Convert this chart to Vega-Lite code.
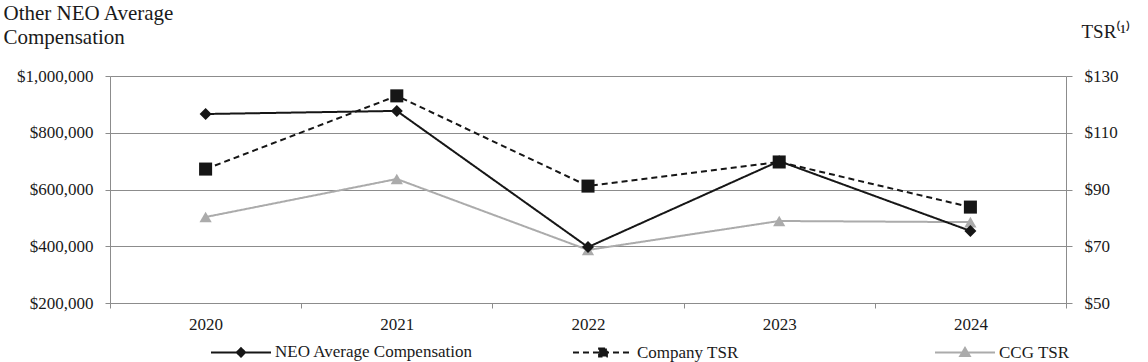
{
  "$schema": "https://vega.github.io/schema/vega-lite/v6.json",
  "width": 956,
  "height": 227,
  "autosize": {"type": "none"},
  "padding": {"left": 110, "top": 76, "right": 82, "bottom": 59},
  "background": "white",
  "config": {
    "font": "Liberation Serif, Times New Roman, serif",
    "view": {"stroke": null},
    "axis": {
      "labelFont": "Liberation Serif, Times New Roman, serif",
      "titleFont": "Liberation Serif, Times New Roman, serif",
      "labelFontSize": 17,
      "labelColor": "#1a1a1a",
      "titleColor": "#1a1a1a",
      "titleFontWeight": "normal",
      "domainColor": "#8c8c8c",
      "tickColor": "#8c8c8c",
      "gridColor": "#8c8c8c",
      "domainWidth": 1,
      "tickWidth": 1,
      "gridWidth": 1
    },
    "legend": {"labelFont": "Liberation Serif, Times New Roman, serif", "labelFontSize": 17, "labelColor": "#1a1a1a", "labelLimit": 400}
  },
  "datasets": {
    "neo": [
      {"year": "2020", "series": "NEO Average Compensation", "value": 866000},
      {"year": "2021", "series": "NEO Average Compensation", "value": 877000},
      {"year": "2022", "series": "NEO Average Compensation", "value": 397000},
      {"year": "2023", "series": "NEO Average Compensation", "value": 700000},
      {"year": "2024", "series": "NEO Average Compensation", "value": 454000}
    ],
    "tsr": [
      {"year": "2020", "series": "Company TSR", "value": 97.2},
      {"year": "2021", "series": "Company TSR", "value": 123.0},
      {"year": "2022", "series": "Company TSR", "value": 91.2},
      {"year": "2023", "series": "Company TSR", "value": 99.7},
      {"year": "2024", "series": "Company TSR", "value": 83.8},
      {"year": "2020", "series": "CCG TSR", "value": 80.3},
      {"year": "2021", "series": "CCG TSR", "value": 93.7},
      {"year": "2022", "series": "CCG TSR", "value": 68.7},
      {"year": "2023", "series": "CCG TSR", "value": 78.9},
      {"year": "2024", "series": "CCG TSR", "value": 78.5}
    ]
  },
  "encoding": {
    "x": {
      "field": "year",
      "type": "ordinal",
      "scale": {"type": "band", "paddingInner": 0, "paddingOuter": 0},
      "axis": {
        "title": null,
        "labelAngle": 0,
        "tickBand": "extent",
        "tickSize": 5,
        "labelPadding": 8,
        "grid": false,
        "labelFont": "Liberation Serif, Times New Roman, serif"
      }
    },
    "color": {
      "field": "series",
      "type": "nominal",
      "scale": {
        "domain": ["NEO Average Compensation", "Company TSR", "CCG TSR"],
        "range": ["#161616", "#161616", "#ababab"]
      },
      "legend": {
        "title": null,
        "orient": "none",
        "direction": "horizontal",
        "legendX": 100,
        "legendY": 245,
        "gridAlign": "all",
        "columnPadding": 96,
        "symbolSize": 3600,
        "symbolStrokeWidth": 2,
        "labelOffset": 3,
        "labelLimit": 400,
        "labelFont": "Liberation Serif, Times New Roman, serif",
        "encode": {
          "symbols": {
            "enter": {
              "shape": {"signal": "datum.value === 'NEO Average Compensation' ? 'M-1,0H1M0,-0.14L0.14,0L0,0.14L-0.14,0Z' : datum.value === 'Company TSR' ? 'M-1,0H1M-0.13,-0.13H0.13V0.13H-0.13Z' : 'M-1,0H1M0,-0.15L0.16,0.12H-0.16Z'"},
              "size": {"value": 3600}
            },
            "update": {
              "shape": {"signal": "datum.value === 'NEO Average Compensation' ? 'M-1,0H1M0,-0.14L0.14,0L0,0.14L-0.14,0Z' : datum.value === 'Company TSR' ? 'M-1,0H1M-0.13,-0.13H0.13V0.13H-0.13Z' : 'M-1,0H1M0,-0.15L0.16,0.12H-0.16Z'"},
              "size": {"value": 3600},
              "strokeDash": {"signal": "datum.value === 'Company TSR' ? [3, 2] : [1, 0]"},
              "fill": {"signal": "datum.value === 'CCG TSR' ? '#ababab' : '#161616'"},
              "stroke": {"signal": "datum.value === 'CCG TSR' ? '#ababab' : '#161616'"},
              "fillOpacity": {"value": 1},
              "opacity": {"value": 1}
            }
          }
        }
      }
    }
  },
  "layer": [
    {
      "data": {"name": "tsr"},
      "encoding": {
        "y": {
          "field": "value",
          "type": "quantitative",
          "scale": {"domain": [50, 130], "nice": false, "zero": false},
          "axis": {
            "orient": "right",
            "values": [50, 70, 90, 110, 130],
            "format": "$,.0f",
            "grid": false,
            "tickSize": 6,
            "labelPadding": 12,
            "labelFont": "Liberation Serif, Times New Roman, serif",
            "title": "TSR⁽¹⁾",
            "titleFont": "Liberation Serif, Times New Roman, serif",
            "titleAngle": 0,
            "titleAlign": "left",
            "titleBaseline": "alphabetic",
            "titleX": 15,
            "titleY": -39,
            "titleFontSize": 19
          }
        }
      },
      "layer": [
        {
          "mark": {"type": "line", "strokeWidth": 2},
          "encoding": {
            "strokeDash": {
              "field": "series",
              "type": "nominal",
              "scale": {"domain": ["NEO Average Compensation", "Company TSR", "CCG TSR"], "range": [[1, 0], [6, 4], [1, 0]]},
              "legend": null
            }
          }
        },
        {
          "transform": [{"filter": "datum.series === 'Company TSR'"}],
          "mark": {"type": "point", "filled": true, "opacity": 1, "shape": "square", "size": 170}
        },
        {
          "transform": [{"filter": "datum.series === 'CCG TSR'"}],
          "mark": {"type": "point", "filled": true, "opacity": 1, "shape": "triangle-up", "size": 150}
        }
      ]
    },
    {
      "data": {"name": "neo"},
      "encoding": {
        "y": {
          "field": "value",
          "type": "quantitative",
          "scale": {"domain": [200000, 1000000], "nice": false, "zero": false},
          "axis": {
            "orient": "left",
            "values": [200000, 400000, 600000, 800000, 1000000],
            "format": "$,.0f",
            "grid": true,
            "tickSize": 5,
            "labelPadding": 12,
            "labelFont": "Liberation Serif, Times New Roman, serif",
            "title": ["Other NEO Average", "Compensation"],
            "titleFont": "Liberation Serif, Times New Roman, serif",
            "titleAngle": 0,
            "titleAlign": "left",
            "titleBaseline": "alphabetic",
            "titleX": -107,
            "titleY": -57,
            "titleFontSize": 21,
            "titleLineHeight": 24
          }
        }
      },
      "layer": [
        {
          "mark": {"type": "line", "strokeWidth": 2},
          "encoding": {
            "strokeDash": {"field": "series", "type": "nominal", "legend": null}
          }
        },
        {
          "mark": {"type": "point", "filled": true, "opacity": 1, "shape": "diamond", "size": 144}
        }
      ]
    }
  ],
  "resolve": {"scale": {"y": "independent"}}
}
